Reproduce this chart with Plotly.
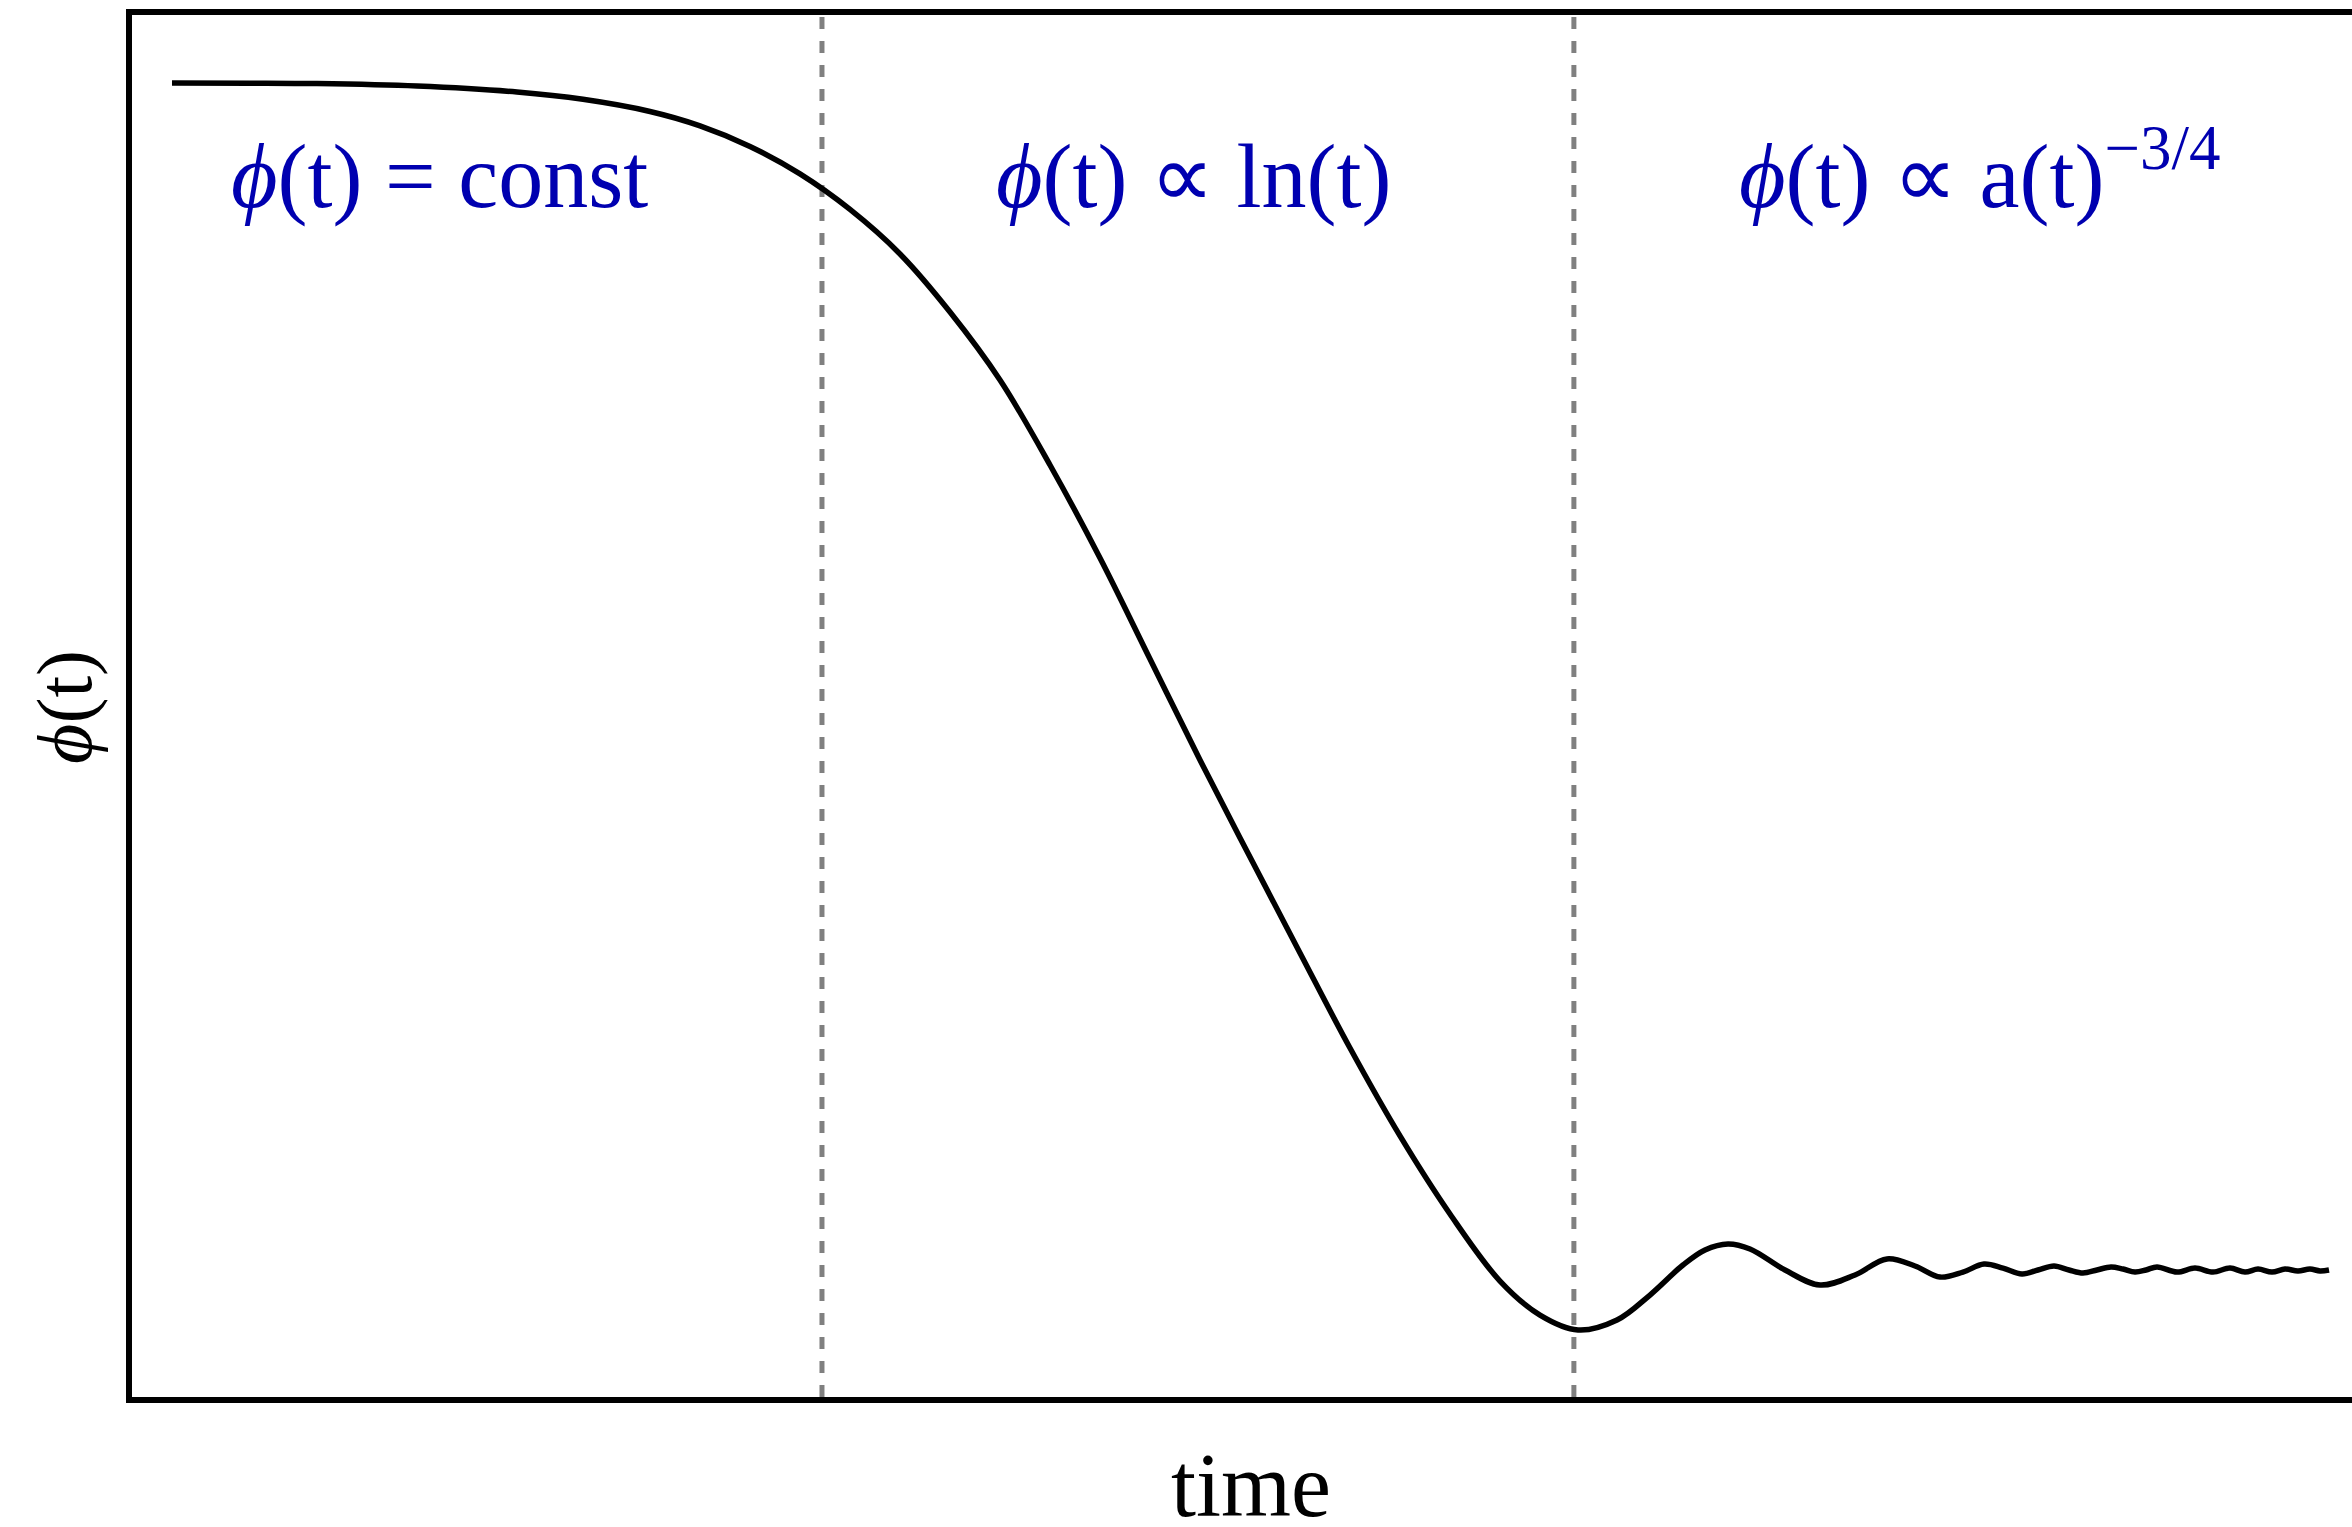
import plotly.graph_objects as go

# ---- data (time in arbitrary units 0-100, phi in arbitrary units 0-100) ----
time = [1.802, 5.315, 8.333, 12.838, 17.342, 20.315, 23.333, 25.586, 27.838, 30.090,
        32.342, 34.595, 36.847, 39.099, 41.351, 43.604, 45.856, 48.108, 50.360, 52.613,
        54.865, 57.117, 59.369, 61.622, 63.423, 65.135, 66.892, 68.378, 69.865, 70.856,
        71.892, 72.883, 74.459, 76.036, 77.613, 79.054, 80.315, 81.441, 82.477, 83.423,
        84.279, 85.135, 85.856, 86.577, 87.252, 87.883, 88.514, 89.144, 89.685, 90.225,
        90.721, 91.216, 92.117, 92.928, 93.739, 94.505, 95.180, 95.766, 96.396, 96.982,
        97.568, 98.108, 98.559, 98.964]
phi = [95.08, 95.07, 95.04, 94.86, 94.43, 93.90, 93.02, 91.98, 90.49, 88.50,
       85.93, 82.71, 78.51, 73.59, 67.44, 60.71, 53.40, 46.09, 39.07, 32.13,
       25.25, 18.89, 13.24, 8.39, 5.93, 4.85, 5.57, 7.38, 9.55, 10.64,
       11.07, 10.71, 9.19, 8.10, 8.83, 9.99, 9.48, 8.68, 9.04, 9.62,
       9.33, 8.90, 9.19, 9.48, 9.19, 8.97, 9.19, 9.41, 9.26, 9.04,
       9.19, 9.41, 9.04, 9.33, 9.04, 9.33, 9.04, 9.26, 9.04, 9.26,
       9.12, 9.26, 9.12, 9.19]

boundaries = [31.08, 64.95]

label_x = [13.87, 47.84, 83.24]
labels = ["<i>ϕ</i>(t) = const",
          "<i>ϕ</i>(t) ∝ ln(t)",
          "<i>ϕ</i>(t) ∝ a(t)<sup>−3/4</sup>"]

FONT = "Liberation Serif"
BLUE = "#0000b0"

fig = go.Figure()
fig.add_trace(go.Scatter(x=time, y=phi, mode="lines",
                         line=dict(color="black", width=5.5, shape="spline", smoothing=1.0),
                         showlegend=False, hoverinfo="skip"))

for b in boundaries:
    fig.add_shape(type="line", xref="x", yref="paper", x0=b, x1=b, y0=0, y1=1,
                  line=dict(color="#808080", width=5, dash="12px,12px"), layer="below")

for lx, txt in zip(label_x, labels):
    fig.add_annotation(x=lx, y=0.8452, xref="x", yref="paper", text=txt,
                       showarrow=False, xanchor="center", yanchor="bottom",
                       font=dict(family=FONT, size=90, color=BLUE))

fig.add_annotation(x=50.41, y=-0.064, xref="x", yref="paper", text="time",
                   showarrow=False, xanchor="center", yanchor="middle",
                   font=dict(family=FONT, size=90, color="black"))
fig.add_annotation(x=-0.0302, y=0.4993, xref="paper", yref="paper", text="<i>ϕ</i>(t)",
                   showarrow=False, xanchor="center", yanchor="middle", textangle=-90,
                   font=dict(family=FONT, size=78, color="black"))

fig.update_layout(
    width=2352, height=1527,
    margin=dict(l=132, r=0, t=15, b=130),
    paper_bgcolor="white", plot_bgcolor="white",
    xaxis=dict(range=[0, 100], showgrid=False, zeroline=False, showticklabels=False,
               ticks="", showline=True, linewidth=5.5, linecolor="black", mirror=True),
    yaxis=dict(range=[0, 100], showgrid=False, zeroline=False, showticklabels=False,
               ticks="", showline=True, linewidth=5.5, linecolor="black", mirror=False),
)

fig.write_html("out.html", config={"displayModeBar": False},
               post_script="document.body.style.margin='0';document.body.style.overflow='hidden';")
